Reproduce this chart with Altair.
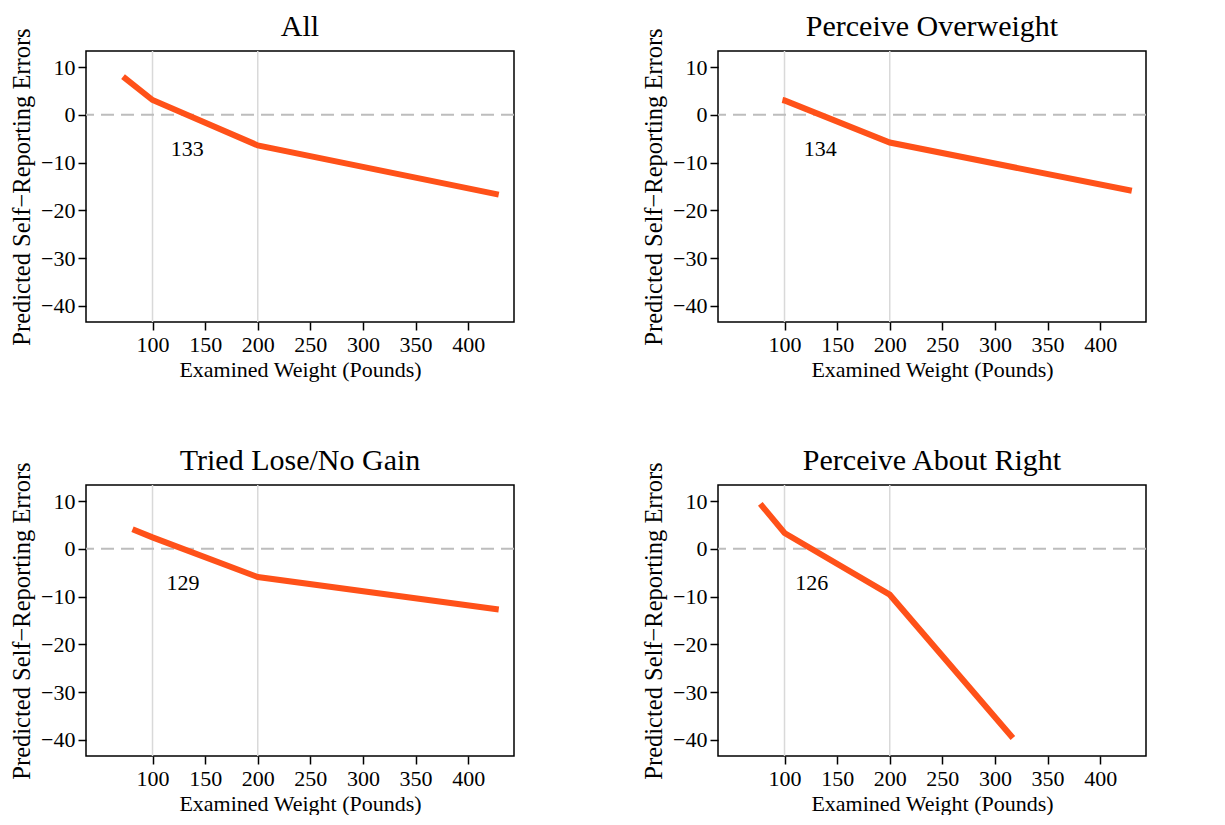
import altair as alt
import pandas as pd

# ---- data ----
titles = ["All", "Perceive Overweight", "Tried Lose/No Gain", "Perceive About Right"]

x_all = [72, 100, 200, 429]
y_all = [8.0, 3.1, -6.4, -16.7]

x_over = [98, 100, 200, 430]
y_over = [3.1, 3.0, -5.8, -15.9]

x_tried = [81, 100, 200, 429]
y_tried = [4.1, 2.4, -5.9, -12.7]

x_right = [77, 100, 200, 317]
y_right = [9.4, 3.3, -9.6, -39.6]

cross_labels = [133, 134, 129, 126]
label_y = -7.1
knots = [100, 200]

x_ticks = [100, 150, 200, 250, 300, 350, 400]
y_ticks = [-40, -30, -20, -10, 0, 10]

X_DOMAIN = [36.8, 443.5]
Y_DOMAIN = [-43.35, 13.35]
FONT = "Liberation Serif"
W, H = 428, 271


def panel(title, xs, ys, lab):
    xenc = alt.X(
        "w:Q",
        scale=alt.Scale(domain=X_DOMAIN, nice=False, zero=False),
        axis=alt.Axis(values=x_ticks, title="Examined Weight (Pounds)", grid=False,
                      labelPadding=4, titlePadding=4, titleFontSize=22),
    )
    yenc = alt.Y(
        "e:Q",
        scale=alt.Scale(domain=Y_DOMAIN, nice=False, zero=False),
        axis=alt.Axis(values=y_ticks, title="Predicted Self\u2212Reporting Errors", grid=False,
                      labelPadding=3, titlePadding=6, format="d", titleFontSize=24.5),
    )
    vgrid = alt.Chart(pd.DataFrame({"w": knots})).mark_rule(
        color="#d9d9d9", strokeWidth=1.5).encode(x=xenc)
    zero = alt.Chart(pd.DataFrame({"e": [0]})).mark_rule(
        color="#bdbdbd", strokeWidth=2, strokeDash=[13, 7]).encode(y=yenc)
    line = alt.Chart(pd.DataFrame({"w": xs, "e": ys})).mark_line(
        color="#ff5119", strokeWidth=6).encode(x=xenc, y=yenc)
    text = alt.Chart(pd.DataFrame({"w": [lab], "e": [label_y], "t": [str(lab)]})).mark_text(
        font=FONT, fontSize=22, color="black", baseline="middle", align="center"
    ).encode(x=xenc, y=yenc, text="t:N")
    head = alt.Chart(pd.DataFrame({"t": [title]})).mark_text(
        font=FONT, fontSize=30, color="black", baseline="alphabetic", align="center"
    ).encode(x=alt.value(W / 2), y=alt.value(-15), text="t:N")
    return alt.layer(vgrid, zero, line, text, head).properties(width=W, height=H)


p1 = panel(titles[0], x_all, y_all, cross_labels[0])
p2 = panel(titles[1], x_over, y_over, cross_labels[1])
p3 = panel(titles[2], x_tried, y_tried, cross_labels[2])
p4 = panel(titles[3], x_right, y_right, cross_labels[3])

chart = alt.vconcat(
    alt.hconcat(p1, p2, spacing=124),
    alt.hconcat(p3, p4, spacing=124),
    spacing=64,
).properties(
    background="white", padding={"left": 0, "top": 3, "right": 5, "bottom": 0}
).configure_axis(
    labelFont=FONT, titleFont=FONT, labelFontSize=22, titleFontSize=23,
    titleFontWeight="normal", labelColor="black", titleColor="black",
    tickColor="black", tickSize=8, tickWidth=1.5, domain=False,
).configure_axisY(labelAngle=0).configure_view(
    stroke="black", strokeWidth=1.5
)

chart.save("out.html", embed_options={"renderer": "svg", "actions": False})
